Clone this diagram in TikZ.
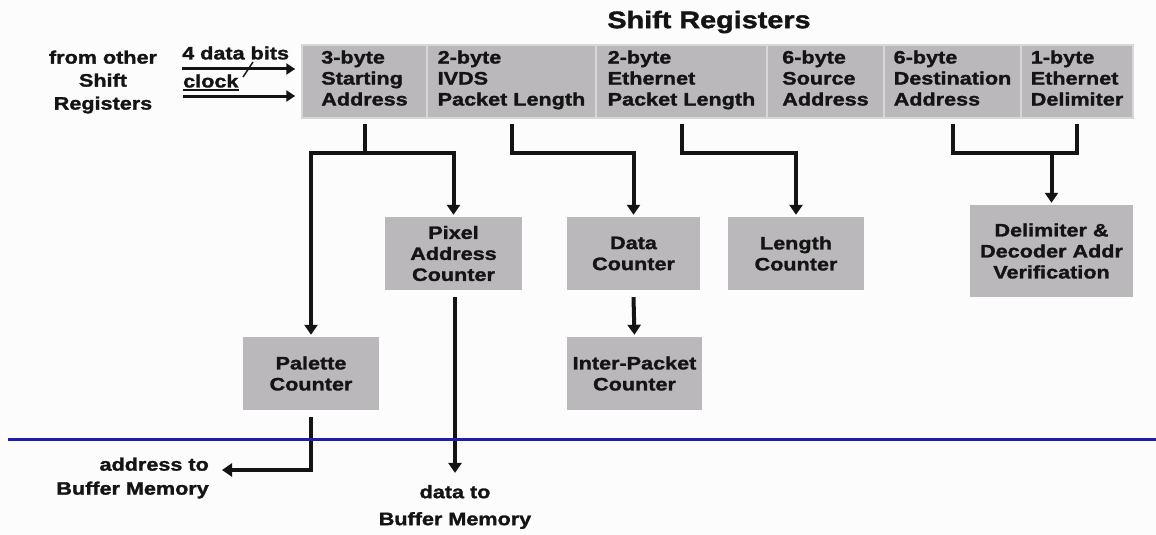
\documentclass[tikz,border=0pt]{standalone}
\usepackage{fontspec}
\newfontfamily\lab[FakeStretch=1.2, BoldFeatures={FakeBold=1.5}]{Liberation Sans}
\usetikzlibrary{arrows.meta}
\definecolor{boxgray}{HTML}{BAB8BB}
\definecolor{divgray}{HTML}{D8D6D9}
\definecolor{bg}{HTML}{FDFCFD}
\definecolor{ink}{HTML}{141414}
\definecolor{rulecol}{HTML}{1E1EB4}
\begin{document}
\begin{tikzpicture}[x=1pt,y=-1pt,
  txt/.style={font=\lab\bfseries\fontsize{18}{21}\selectfont, text=ink, inner sep=0pt},
  cell/.style={txt, fill=boxgray, draw=divgray, line width=1.5pt, align=left, minimum height=73pt, text depth=7pt},
  counter/.style={txt, fill=boxgray, align=center, minimum height=73pt},
  wire/.style={line width=4pt, draw=ink, line join=miter},
  arr/.style={wire, -{Triangle[width=13pt,length=10pt]}, shorten >=2pt},
  both/.style={wire, {Triangle[width=13pt,length=10pt]}-{Triangle[width=13pt,length=10pt]}, shorten >=2pt, shorten <=2pt},
  inarr/.style={line width=3pt, draw=ink, -{Triangle[width=11pt,length=9pt]}, shorten >=6pt},
]
\fill[bg] (0,0) rectangle (1156,535);
\useasboundingbox (0,0) rectangle (1156,535);

% title and input labels
\node[txt, font=\lab\bfseries\fontsize{24}{28}\selectfont] (title) at (709,22) {Shift Registers};
\node[txt, align=center, font=\lab\bfseries\fontsize{18}{23}\selectfont] (from) at (103,82) {from other\\Shift\\Registers};
\node[txt, anchor=west] (bits) at (182,53) {4 data bits};
\node[txt, anchor=west] (clock) at (183,81) {clock};
\draw[ink, line width=1.8pt] ([yshift=-2pt]clock.south west) -- ([yshift=-2pt]clock.south east);

% shift register cells
\node[cell, minimum width=125pt] (r1) at (364.5,81.5) {3-byte\\Starting\\Address};
\node[cell, minimum width=169pt] (r2) at (511.5,81.5) {2-byte\\IVDS\\Packet Length};
\node[cell, minimum width=171pt] (r3) at (681.5,81.5) {2-byte\\Ethernet\\Packet Length};
\node[cell, minimum width=117pt] (r4) at (825.5,81.5) {6-byte\\Source\\Address};
\node[cell, minimum width=137pt] (r5) at (952.5,81.5) {6-byte\\Destination\\Address};
\node[cell, minimum width=112pt] (r6) at (1077,81.5) {1-byte\\Ethernet\\Delimiter};

% counters
\node[counter, minimum width=137pt] (pixel) at (453.5,253.5) {Pixel\\Address\\Counter};
\node[counter, minimum width=133pt] (data) at (633.5,253.5) {Data\\Counter};
\node[counter, minimum width=136pt] (length) at (796,253.5) {Length\\Counter};
\node[counter, minimum width=163pt, minimum height=92pt] (delim) at (1051.5,251) {Delimiter \&\\Decoder Addr\\Verification};
\node[counter, minimum width=136pt] (palette) at (311,373.5) {Palette\\Counter};
\node[counter, minimum width=135pt] (inter) at (634.5,373.5) {Inter-Packet\\Counter};

% output labels
\node[txt, align=right, anchor=east, font=\lab\bfseries\fontsize{18}{24}\selectfont] (addr) at (209,478) {address to\\Buffer Memory};
\node[txt, align=center, font=\lab\bfseries\fontsize{18}{27}\selectfont] (datato) at (455,507) {data to\\Buffer Memory};

% input arrows
\coordinate (in1) at (182,69);
\coordinate (in2) at (183,96);
\draw[inarr] (in1) -- (in1 -| r1.west);
\draw[inarr] (in2) -- (in2 -| r1.west);
\draw[ink, line width=1.5pt] (243,77) -- (253,62);

% junctions
\coordinate (j1) at ([yshift=-34pt]r1.south);
\coordinate (j2) at ([yshift=-34pt]r2.south);
\coordinate (j3) at ([yshift=-34pt]r3.south);
\coordinate (j5) at ([yshift=-34pt]r5.south);

% connectors
\draw[wire] ([yshift=-5pt]r1.south) -- (j1);
\draw[both] (palette.north) |- (j1) -| (pixel.north);
\draw[arr] ([yshift=-5pt]r2.south) -- (j2) -| (data.north);
\draw[arr] ([yshift=-5pt]r3.south) -- (j3) -| (length.north);
\draw[wire] ([yshift=-5pt]r5.south) -- (j5) -- (j5 -| r6.south) -- ([yshift=-5pt]r6.south);
\draw[arr] (j5 -| delim.north) -- (delim.north);
\draw[arr] ([yshift=-7pt]data.south) -- (inter.north);
\coordinate (atip) at (222,470);
\draw[arr, shorten >=0pt] ([yshift=-7pt]palette.south) |- (atip);
\draw[arr, shorten >=0pt] ([yshift=-7pt]pixel.south -| datato.north) -- ([yshift=12pt]datato.north);

% blue rule
\draw[rulecol, line width=3pt] (8,439) -- (1156,439);
\end{tikzpicture}
\end{document}
